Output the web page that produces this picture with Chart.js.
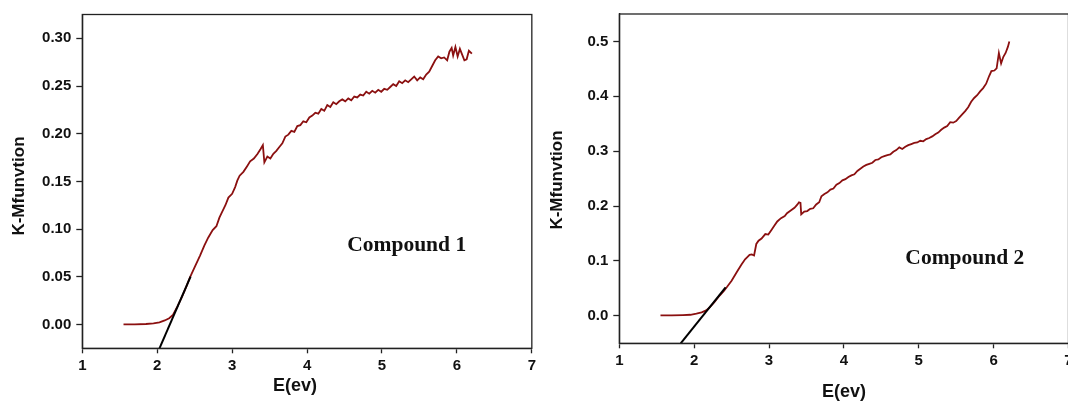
<!DOCTYPE html>
<html lang="en">
<head>
  <meta charset="UTF-8" />
  <title>K-M function vs E</title>
  <script src="https://cdn.jsdelivr.net/npm/chart.js"></script>
  <style>
    html, body { margin: 0; padding: 0; background: #fff; overflow: hidden; }
    #wrap { position: relative; width: 1068px; height: 401px; overflow: hidden; }
    #left { position: absolute; left: 0; top: 0; }
    #right { position: absolute; left: 540px; top: 0; }
  </style>
</head>
<body>
  <div id="wrap">
    <canvas id="left" width="540" height="401"></canvas>
    <canvas id="right" width="560" height="401"></canvas>
  </div>

  <script>
    // Compound 1 spectrum
    const energy1 = [1.55, 1.70, 1.85, 1.95, 2.03, 2.10, 2.16, 2.21, 2.27, 2.33, 2.39, 2.44, 2.50, 2.57, 2.63, 2.68, 2.74, 2.79, 2.83, 2.86,
      2.91, 2.95, 3.00, 3.04, 3.07, 3.10, 3.15, 3.20, 3.24, 3.29, 3.34, 3.38, 3.41, 3.43, 3.47, 3.51, 3.55, 3.59, 3.63, 3.67,
      3.71, 3.75, 3.79, 3.83, 3.87, 3.91, 3.95, 3.99, 4.03, 4.07, 4.11, 4.15, 4.19, 4.23, 4.27, 4.31, 4.35, 4.39, 4.43, 4.47,
      4.51, 4.55, 4.59, 4.63, 4.67, 4.71, 4.75, 4.79, 4.83, 4.87, 4.91, 4.95, 4.99, 5.03, 5.07, 5.11, 5.15, 5.19, 5.23, 5.27,
      5.31, 5.35, 5.39, 5.43, 5.47, 5.51, 5.55, 5.59, 5.63, 5.67, 5.71, 5.75, 5.79, 5.83, 5.87, 5.90, 5.93, 5.95, 5.98, 6.01,
      6.04, 6.07, 6.10, 6.13, 6.16, 6.20];
    const km1 = [0.000, 0.000, 0.0005, 0.0012, 0.0022, 0.0042, 0.0065, 0.0100, 0.019, 0.029, 0.040, 0.050, 0.060, 0.072, 0.083, 0.091, 0.099, 0.103, 0.112, 0.117,
      0.125, 0.133, 0.137, 0.144, 0.151, 0.156, 0.160, 0.166, 0.171, 0.174, 0.179, 0.184, 0.188, 0.170, 0.176, 0.174, 0.179, 0.182, 0.186, 0.190,
      0.197, 0.199, 0.203, 0.202, 0.208, 0.209, 0.213, 0.212, 0.217, 0.219, 0.222, 0.221, 0.226, 0.224, 0.230, 0.228, 0.233, 0.231, 0.234, 0.236,
      0.234, 0.237, 0.235, 0.239, 0.238, 0.241, 0.240, 0.244, 0.242, 0.245, 0.243, 0.246, 0.244, 0.247, 0.246, 0.249, 0.252, 0.250, 0.255, 0.253,
      0.256, 0.254, 0.257, 0.260, 0.256, 0.259, 0.257, 0.262, 0.265, 0.271, 0.277, 0.281, 0.279, 0.280, 0.277, 0.286, 0.290, 0.282, 0.291, 0.281,
      0.289, 0.283, 0.277, 0.278, 0.287, 0.284];
    const fitX1 = [2.03, 2.445];
    const fitY1 = [-0.025, 0.0502];

    // Compound 2 spectrum
    const energy2 = [1.55, 1.70, 1.85, 1.95, 2.03, 2.10, 2.16, 2.21, 2.27, 2.34, 2.40, 2.44, 2.50, 2.57, 2.63, 2.68, 2.71, 2.74, 2.77, 2.80,
      2.83, 2.86, 2.90, 2.95, 2.99, 3.03, 3.07, 3.11, 3.16, 3.21, 3.24, 3.29, 3.34, 3.38, 3.40, 3.42, 3.43, 3.47, 3.51, 3.55,
      3.59, 3.63, 3.67, 3.70, 3.74, 3.78, 3.82, 3.86, 3.90, 3.94, 3.98, 4.02, 4.06, 4.10, 4.14, 4.18, 4.22, 4.26, 4.30, 4.34,
      4.38, 4.42, 4.46, 4.50, 4.54, 4.58, 4.62, 4.66, 4.70, 4.74, 4.78, 4.82, 4.86, 4.90, 4.94, 4.98, 5.02, 5.06, 5.10, 5.14,
      5.18, 5.22, 5.26, 5.30, 5.34, 5.38, 5.42, 5.46, 5.50, 5.54, 5.58, 5.62, 5.66, 5.70, 5.74, 5.78, 5.82, 5.86, 5.90, 5.94,
      5.97, 6.01, 6.04, 6.07, 6.10, 6.13, 6.16, 6.19, 6.21];
    const km2 = [0.001, 0.001, 0.0015, 0.002, 0.004, 0.0065, 0.010, 0.016, 0.025, 0.037, 0.046, 0.053, 0.064, 0.080, 0.093, 0.103, 0.107, 0.111, 0.112, 0.110,
      0.131, 0.137, 0.141, 0.149, 0.148, 0.156, 0.164, 0.172, 0.178, 0.182, 0.187, 0.192, 0.197, 0.203, 0.207, 0.206, 0.185, 0.190, 0.191, 0.195,
      0.196, 0.203, 0.207, 0.218, 0.222, 0.225, 0.230, 0.232, 0.239, 0.242, 0.247, 0.249, 0.253, 0.256, 0.258, 0.264, 0.268, 0.272, 0.275, 0.277,
      0.279, 0.284, 0.285, 0.289, 0.291, 0.293, 0.294, 0.299, 0.302, 0.307, 0.304, 0.308, 0.311, 0.313, 0.315, 0.316, 0.319, 0.318, 0.322, 0.324,
      0.327, 0.331, 0.334, 0.339, 0.343, 0.346, 0.353, 0.352, 0.355, 0.361, 0.367, 0.373, 0.380, 0.390, 0.397, 0.402, 0.409, 0.415, 0.423, 0.437,
      0.446, 0.447, 0.451, 0.479, 0.460, 0.472, 0.479, 0.490, 0.500];
    const fitX2 = [1.82, 2.42];
    const fitY2 = [-0.05, 0.052];

    // axis ticks
    const xTicks = [1, 2, 3, 4, 5, 6, 7];
    const yTicks1 = [0.00, 0.05, 0.10, 0.15, 0.20, 0.25, 0.30];
    const yTicks2 = [0.0, 0.1, 0.2, 0.3, 0.4, 0.5];

    const curveColor = '#8b1010';
    const axisColor = '#222';

    Chart.defaults.font.family = '"Liberation Sans", Arial, sans-serif';
    Chart.defaults.color = '#111';

    const toPoints = (xs, ys) => xs.map((x, i) => ({ x, y: ys[i] }));

    // frame, axis titles and the compound label
    const decorations = {
      id: 'decorations',
      afterDraw(chart, args, o) {
        const { ctx, chartArea: a, scales } = chart;
        ctx.save();
        ctx.strokeStyle = axisColor;
        ctx.lineWidth = 1.3;
        ctx.strokeRect(a.left, a.top, a.right - a.left, a.bottom - a.top);

        ctx.fillStyle = '#111';
        ctx.textAlign = 'center';
        ctx.textBaseline = 'middle';
        ctx.font = 'bold 18px "Liberation Sans", Arial';
        ctx.fillText('E(ev)', o.xTitle[0], o.xTitle[1]);

        ctx.save();
        ctx.translate(o.yTitle[0], o.yTitle[1]);
        ctx.rotate(-Math.PI / 2);
        ctx.font = 'bold 17px "Liberation Sans", Arial';
        ctx.fillText('K-Mfunvtion', 0, 0);
        ctx.restore();

        ctx.font = 'bold 21.5px "Liberation Serif", "Times New Roman", serif';
        ctx.fillText(o.label, scales.x.getPixelForValue(o.labelAt[0]), scales.y.getPixelForValue(o.labelAt[1]));
        ctx.restore();
      }
    };

    function makeChart(id, xs, ys, fx, fy, yMin, yMax, yTicks, digits, area, deco) {
      new Chart(document.getElementById(id), {
        type: 'scatter',
        data: {
          datasets: [
            {
              data: toPoints(xs, ys),
              showLine: true,
              borderColor: curveColor,
              borderWidth: 1.8,
              pointRadius: 0,
              tension: 0,
              order: 2
            },
            {
              // tangent drawn over the curve
              data: toPoints(fx, fy),
              showLine: true,
              borderColor: '#000',
              borderWidth: 2,
              pointRadius: 0,
              order: 1
            }
          ]
        },
        options: {
          responsive: false,
          animation: false,
          events: [],
          layout: { padding: { top: area.top, right: area.right, left: 0, bottom: 0 } },
          plugins: {
            legend: { display: false },
            tooltip: { enabled: false },
            decorations: deco
          },
          scales: {
            x: {
              type: 'linear',
              min: 1,
              max: 7,
              afterBuildTicks: s => { s.ticks = xTicks.map(v => ({ value: v })); },
              afterFit: s => { s.height = area.xHeight; },
              grid: { drawOnChartArea: false, tickLength: 5, tickColor: axisColor, tickWidth: 1.3 },
              border: { color: axisColor, width: 1.3 },
              ticks: { font: { size: 15, weight: 'bold' }, padding: 4, maxRotation: 0, callback: v => String(v) }
            },
            y: {
              min: yMin,
              max: yMax,
              afterBuildTicks: s => { s.ticks = yTicks.map(v => ({ value: v })); },
              afterFit: s => { s.width = area.yWidth; },
              grid: { drawOnChartArea: false, tickLength: 6, tickColor: axisColor, tickWidth: 1.3 },
              border: { color: axisColor, width: 1.3 },
              ticks: { font: { size: 15, weight: 'bold' }, padding: 5, callback: v => Number(v).toFixed(digits) }
            }
          }
        },
        plugins: [decorations]
      });
    }

    makeChart('left', energy1, km1, fitX1, fitY1, -0.025, 0.325, yTicks1, 2,
      { top: 14.5, right: 7.7, xHeight: 52.7, yWidth: 82.3 },
      { xTitle: [295, 386], yTitle: [19, 186], label: 'Compound 1', labelAt: [5.33, 0.0826] });

    makeChart('right', energy2, km2, fitX2, fitY2, -0.05, 0.55, yTicks2, 1,
      { top: 12, right: 31.5, xHeight: 57.7, yWidth: 79.3 },
      { xTitle: [304, 392], yTitle: [17, 180], label: 'Compound 2', labelAt: [5.615, 0.1047] });
  </script>
</body>
</html>
